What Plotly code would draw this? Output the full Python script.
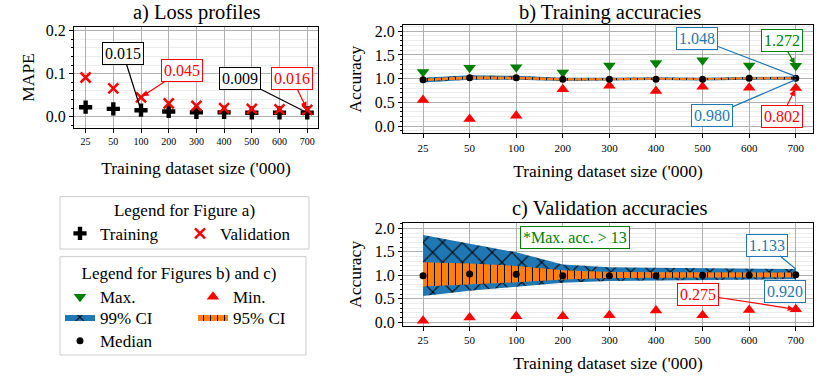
import plotly.graph_objects as go

FONT = "Liberation Serif"
BLUE = "#1f77b4"
ORANGE = "#ff7f0e"
GREEN = "green"
RED = "red"

sizes = ["25", "50", "100", "200", "300", "400", "500", "600", "700"]

# a) loss profiles (MAPE)
mape_train = [0.022, 0.018, 0.015, 0.012, 0.010, 0.010, 0.009, 0.009, 0.009]
mape_val = [0.091, 0.066, 0.045, 0.031, 0.025, 0.020, 0.018, 0.017, 0.016]

# b) training accuracies
train_median = [0.98, 1.02, 1.02, 0.99, 0.99, 0.99, 0.99, 1.01, 1.01]
train_max = [1.14, 1.23, 1.24, 1.13, 1.28, 1.33, 1.39, 1.28, 1.272]
train_min = [0.55, 0.15, 0.22, 0.78, 0.85, 0.74, 0.83, 0.81, 0.802]
train_ci99_hi = [1.02, 1.07, 1.06, 1.02, 1.02, 1.03, 1.02, 1.04, 1.048]
train_ci99_lo = [0.92, 0.98, 0.98, 0.95, 0.96, 0.97, 0.96, 0.98, 0.980]
train_ci95_hi = [1.00, 1.05, 1.04, 1.01, 1.01, 1.02, 1.01, 1.03, 1.03]
train_ci95_lo = [0.95, 0.99, 0.99, 0.96, 0.97, 0.98, 0.97, 0.99, 0.99]

# c) validation accuracies (max. accuracies are all > 13, off the chart)
val_median = [0.99, 1.03, 1.02, 0.99, 0.99, 0.99, 1.00, 1.00, 1.01]
val_min = [0.03, 0.10, 0.13, 0.13, 0.15, 0.25, 0.15, 0.26, 0.275]
val_ci99_hi = [1.86, 1.68, 1.49, 1.23, 1.17, 1.16, 1.15, 1.14, 1.133]
val_ci99_lo = [0.56, 0.67, 0.76, 0.84, 0.88, 0.89, 0.90, 0.91, 0.920]
val_ci95_hi = [1.28, 1.25, 1.20, 1.11, 1.07, 1.07, 1.06, 1.06, 1.06]
val_ci95_lo = [0.76, 0.80, 0.85, 0.91, 0.94, 0.95, 0.95, 0.96, 0.96]


def band(hi, lo, color, shape, size, xa, ya, name, show):
    # closed polygon: upper edge left->right, lower edge right->left
    return go.Scatter(
        x=sizes + sizes[::-1], y=hi + lo[::-1], xaxis=xa, yaxis=ya,
        mode="lines", fill="toself", line=dict(width=0, color=color),
        fillcolor=color,
        fillpattern=dict(shape=shape, fgcolor="black", bgcolor=color,
                         size=size, solidity=0.15, fillmode="replace"),
        name=name, showlegend=show, legend="legend3", legendwidth=88,
        hoverinfo="skip")


fig = go.Figure()

# --- a)
fig.add_trace(go.Scatter(x=sizes, y=mape_train, mode="markers", name="Training",
                         marker=dict(symbol="cross", size=11, color="black"),
                         legend="legend", legendwidth=75))
fig.add_trace(go.Scatter(x=sizes, y=mape_val, mode="markers", name="Validation",
                         marker=dict(symbol="x-thin", size=10, color=RED,
                                     line=dict(width=2.5, color=RED)),
                         legend="legend", legendwidth=84))

# --- b) and c)
panels = [
    ("x2", "y2", train_median, train_max, train_min, train_ci99_hi, train_ci99_lo,
     train_ci95_hi, train_ci95_lo, True),
    ("x3", "y3", val_median, None, val_min, val_ci99_hi, val_ci99_lo,
     val_ci95_hi, val_ci95_lo, False),
]
for xa, ya, med, mx, mn, h99, l99, h95, l95, show in panels:
    fig.add_trace(band(h99, l99, BLUE, "x", 14, xa, ya, "99% CI", show))
    fig.add_trace(band(h95, l95, ORANGE, "|", 7, xa, ya, "95% CI", show))
    if mx is not None:
        fig.add_trace(go.Scatter(x=sizes, y=mx, xaxis=xa, yaxis=ya, mode="markers",
                                 name="Max.", showlegend=show, legend="legend2", legendwidth=88,
                                 marker=dict(symbol="triangle-down", size=11, color=GREEN)))
    fig.add_trace(go.Scatter(x=sizes, y=mn, xaxis=xa, yaxis=ya, mode="markers",
                             name="Min.", showlegend=show, legend="legend2", legendwidth=60,
                             marker=dict(symbol="triangle-up", size=11, color=RED)))
    fig.add_trace(go.Scatter(x=sizes, y=med, xaxis=xa, yaxis=ya, mode="markers",
                             name="Median", showlegend=show, legend="legend4",
                             marker=dict(symbol="circle", size=7, color="black")))

# --- axes
grid = dict(showline=True, mirror=True, linecolor="black", linewidth=1,
            ticks="outside", ticklen=4, tickcolor="black",
            showgrid=True, gridcolor="#b0b0b0", gridwidth=1, zeroline=False)
XLABEL = "Training dataset size ('000)"
minor_a = dict(dtick=0.02, showgrid=True, gridcolor="#ececec",
               ticks="outside", ticklen=2, tickcolor="black")
minor_bc = dict(minor_a, dtick=0.1)

fig.update_layout(
    xaxis=dict(domain=[0.0184, 0.3395], anchor="y", type="category", range=[-0.42, 8.39],
               tickfont=dict(size=10),
               title=dict(text=XLABEL, font=dict(size=17.5), standoff=15), **grid),
    yaxis=dict(domain=[0.6624, 0.9297], anchor="x", range=[-0.027, 0.209], dtick=0.1,
               tickformat=".1f", tickfont=dict(size=16),
               title=dict(text="MAPE", font=dict(size=17.5), standoff=6),
               minor=minor_a, **grid),
    xaxis2=dict(domain=[0.4513, 0.9908], anchor="y2", type="category", range=[-0.43, 8.37],
                tickfont=dict(size=11),
                title=dict(text=XLABEL, font=dict(size=17.5), standoff=12), **grid),
    yaxis2=dict(domain=[0.6492, 0.9342], anchor="x2", range=[-0.15, 2.13], dtick=0.5,
                tickformat=".1f", tickfont=dict(size=16),
                title=dict(text="Accuracy", font=dict(size=17.5), standoff=8),
                minor=minor_bc, **grid),
    xaxis3=dict(domain=[0.4513, 0.9908], anchor="y3", type="category", range=[-0.43, 8.37],
                tickfont=dict(size=11),
                title=dict(text=XLABEL, font=dict(size=17.5), standoff=11), **grid),
    yaxis3=dict(domain=[0.1421, 0.4139], anchor="x3", range=[-0.08, 2.12], dtick=0.5,
                tickformat=".1f", tickfont=dict(size=16),
                title=dict(text="Accuracy", font=dict(size=17.5), standoff=8),
                minor=minor_bc, **grid),
)

# --- titles and value labels
titles = [("a) Loss profiles", 0.1799, 0.968), ("b) Training accuracies", 0.7237, 0.968),
          ("c) Validation accuracies", 0.7224, 0.4526)]
ann = [dict(text=t, x=x, y=y, xref="paper", yref="paper", xanchor="center",
            yanchor="middle", showarrow=False, font=dict(size=20.5)) for t, x, y in titles]


def label(txt, i, y, xr, yr, ax, ay, color, head):
    # i is the category index (category names are numeric strings)
    return dict(text=txt, x=i, y=y, xref=xr, yref=yr, ax=ax, ay=ay, showarrow=True,
                arrowhead=2 if head else 0, arrowwidth=1.2, arrowsize=1, arrowcolor=color,
                font=dict(size=16, color=color), bgcolor="white", bordercolor=color,
                borderwidth=1, borderpad=2, standoff=2 if head else 0)


i100 = sizes.index("100")
last = len(sizes) - 1
ann += [
    label(f"{mape_train[i100]:.3f}", i100, mape_train[i100], "x", "y", -18, -57, "black", False),
    label(f"{mape_val[i100]:.3f}", i100, mape_val[i100], "x", "y", 41, -27, RED, True),
    label(f"{mape_train[last]:.3f}", last, mape_train[last], "x", "y", -67, -34, "black", False),
    label(f"{mape_val[last]:.3f}", last, mape_val[last], "x", "y", -15, -31, RED, True),
    label(f"{train_ci99_hi[last]:.3f}", last, train_ci99_hi[last], "x2", "y2", -99, -38, BLUE, False),
    label(f"{train_max[last]:.3f}", last, train_max[last], "x2", "y2", -14, -25, GREEN, True),
    label(f"{train_ci99_lo[last]:.3f}", last, train_ci99_lo[last], "x2", "y2", -84, 36, BLUE, False),
    label(f"{train_min[last]:.3f}", last, train_min[last], "x2", "y2", -14, 28, RED, True),
    label(f"{val_ci99_hi[last]:.3f}", last, val_ci99_hi[last], "x3", "y3", -29, -24, BLUE, False),
    label(f"{val_ci99_lo[last]:.3f}", last, val_ci99_lo[last], "x3", "y3", -11, 12, BLUE, False),
    label(f"{val_min[last]:.3f}", last, val_min[last], "x3", "y3", -98, -15, RED, True),
    dict(text="*Max. acc. > 13", x=3.26, y=1.8, xref="x3", yref="y3", showarrow=False,
         font=dict(size=16, color=GREEN), bgcolor="white", bordercolor=GREEN,
         borderwidth=1, borderpad=2),
]

# legends: transparent, laid out over two framed boxes
leg = dict(orientation="h", xanchor="left", yanchor="top", font=dict(size=17),
           bgcolor="rgba(0,0,0,0)", borderwidth=0)
box = dict(type="rect", xref="paper", yref="paper", fillcolor="white",
           line=dict(color="#cccccc", width=1), layer="below")
fig.update_layout(
    annotations=ann,
    legend=dict(leg, x=0, y=0.4903,
                title=dict(text="Legend for Figure a)", side="top center", font=dict(size=17))),
    legend2=dict(leg, x=0, y=0.3232,
                 title=dict(text="Legend for Figures b) and c)", side="top center",
                            font=dict(size=17))),
    legend3=dict(leg, x=0, y=0.2118),
    legend4=dict(leg, x=0, y=0.1495),
    shapes=[dict(box, x0=0, x1=0.3276, y0=0.3447, y1=0.4824),
            dict(box, x0=0, x1=0.3237, y0=0.0658, y1=0.3245)],
    width=830, height=380, margin=dict(l=60, r=10, t=0, b=0, autoexpand=False),
    font=dict(family=FONT, color="black"),
    plot_bgcolor="white", paper_bgcolor="white",
)

# the page body has a default 8px margin; drop it so the figure sits at the window origin
fig.write_html("out.html", config={"displayModeBar": False},
               post_script="document.body.style.margin = '0px';")
